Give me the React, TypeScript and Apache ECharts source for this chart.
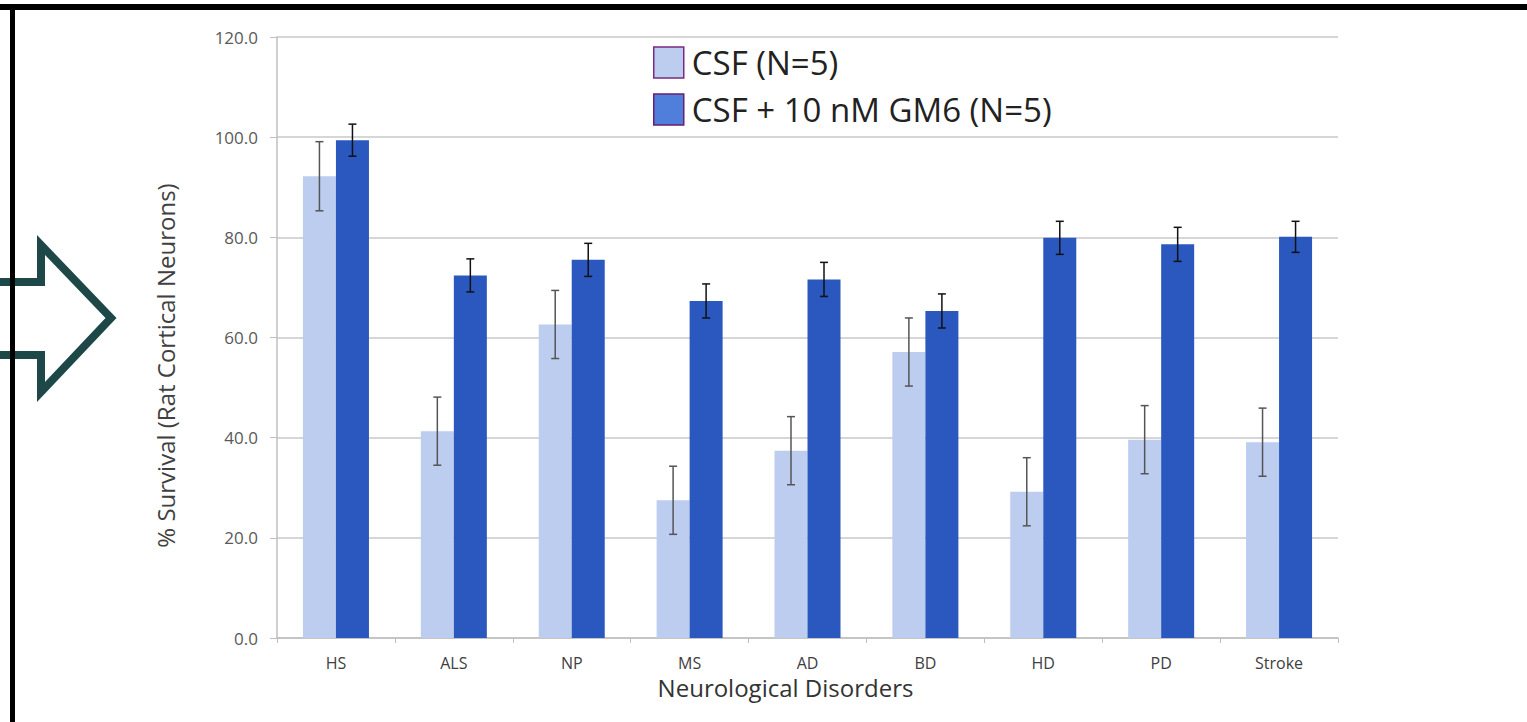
import React, { useEffect, useRef } from "react";
import * as echarts from "echarts";

const categories = ["HS", "ALS", "NP", "MS", "AD", "BD", "HD", "PD", "Stroke"];
const csfValues = [92.2, 41.3, 62.6, 27.5, 37.4, 57.1, 29.2, 39.6, 39.1];
const csfErrors = [6.9, 6.8, 6.8, 6.8, 6.8, 6.8, 6.8, 6.8, 6.8];
const gm6Values = [99.4, 72.4, 75.5, 67.3, 71.6, 65.3, 79.9, 78.6, 80.1];
const gm6Errors = [3.2, 3.3, 3.3, 3.4, 3.4, 3.4, 3.3, 3.4, 3.1];
const yTicks = { min: 0, max: 120, interval: 20 };
const seriesNames = ["CSF (N=5)", "CSF + 10 nM GM6 (N=5)"];

const LIGHT = "#BCCDF0";
const DARK = "#2A58BE";
const GAP = 0.44;
const FONT = "'Open Sans', sans-serif";

function errorSeries(values: number[], errors: number[], side: number, color: string) {
  return {
    type: "custom",
    silent: true,
    z: 5,
    data: values.map((v, i) => [i, v - errors[i], v + errors[i]]),
    renderItem: (params: any, api: any) => {
      const idx = api.value(0);
      const lo = api.coord([idx, api.value(1)]);
      const hi = api.coord([idx, api.value(2)]);
      const band = api.size([1, 0])[0];
      const bw = (band * (1 - GAP)) / 2;
      const x = lo[0] + side * bw / 2;
      const cap = 4;
      const style = { stroke: color, lineWidth: 1.5, fill: "none" };
      return {
        type: "group",
        children: [
          { type: "line", shape: { x1: x, y1: lo[1], x2: x, y2: hi[1] }, style },
          { type: "line", shape: { x1: x - cap, y1: lo[1], x2: x + cap, y2: lo[1] }, style },
          { type: "line", shape: { x1: x - cap, y1: hi[1], x2: x + cap, y2: hi[1] }, style },
        ],
      };
    },
  };
}

export default function App() {
  const ref = useRef<HTMLDivElement>(null);
  useEffect(() => {
    if (!ref.current) return;
    const chart = echarts.init(ref.current, undefined, { renderer: "svg" });
    chart.setOption({
      animation: false,
      backgroundColor: "#ffffff",
      grid: { left: 277, right: 189, top: 37, bottom: 84 },
      legend: {
        orient: "vertical",
        left: 648,
        top: 41,
        itemWidth: 30,
        itemHeight: 31,
        itemGap: 14,
        selectedMode: false,
        textStyle: { fontSize: 33, color: "#222", fontFamily: FONT, padding: [0, 0, 0, 3] },
        data: [
          { name: seriesNames[0], icon: "rect", itemStyle: { color: LIGHT, borderColor: "#7A2A80", borderWidth: 1.5 } },
          { name: seriesNames[1], icon: "rect", itemStyle: { color: "#4F7FDA", borderColor: "#6A1F70", borderWidth: 1.5 } },
        ],
      },
      xAxis: {
        type: "category",
        data: categories,
        name: "Neurological Disorders",
        nameLocation: "middle",
        nameGap: 33,
        nameTextStyle: { fontSize: 24, color: "#333", fontFamily: FONT, padding: [0, 44, 0, 0] },
        axisLine: { lineStyle: { color: "#BFBFBF", width: 1.5 } },
        axisTick: { show: true, length: 5, lineStyle: { color: "#BFBFBF" } },
        axisLabel: { fontSize: 16, color: "#404040", fontFamily: FONT, margin: 17 },
      },
      yAxis: {
        type: "value",
        min: yTicks.min,
        max: yTicks.max,
        interval: yTicks.interval,
        name: "% Survival (Rat Cortical Neurons)",
        nameLocation: "middle",
        nameGap: 100,
        nameRotate: 90,
        nameTextStyle: { fontSize: 24, color: "#404040", fontFamily: FONT, padding: [0, 56, 0, 0] },
        axisLine: { show: true, lineStyle: { color: "#BFBFBF", width: 1.5 } },
        axisTick: { show: true, length: 7, lineStyle: { color: "#BFBFBF" } },
        splitLine: { lineStyle: { color: "#C8C8C8", width: 1.5 } },
        axisLabel: {
          fontSize: 17,
          color: "#595959",
          fontFamily: FONT,
          margin: 19,
          formatter: (v: number) => v.toFixed(1),
        },
      },
      series: [
        {
          name: seriesNames[0],
          type: "bar",
          data: csfValues,
          barGap: "0%",
          barCategoryGap: GAP * 100 + "%",
          itemStyle: { color: LIGHT },
        },
        {
          name: seriesNames[1],
          type: "bar",
          data: gm6Values,
          barGap: "0%",
          barCategoryGap: GAP * 100 + "%",
          itemStyle: { color: DARK },
        },
        errorSeries(csfValues, csfErrors, -1, "#555555"),
        errorSeries(gm6Values, gm6Errors, 1, "#111111"),
      ],
      graphic: [
        { type: "rect", shape: { x: 0, y: 4, width: 1527, height: 6 }, style: { fill: "#000" }, z: 100 },
        { type: "rect", shape: { x: 10, y: 4, width: 5, height: 718 }, style: { fill: "#000" }, z: 100 },
        {
          type: "polyline",
          shape: { points: [[-6, 282], [41, 282], [41, 245], [111, 318], [41, 392], [41, 355], [-6, 355]] },
          style: { stroke: "#1E4848", lineWidth: 8, fill: "none", lineJoin: "miter" },
          z: 99,
        },
      ],
    });
    return () => chart.dispose();
  }, []);
  return (
    <div
      ref={ref}
      style={{ position: "fixed", left: 0, top: 0, width: 1527, height: 722, background: "#fff" }}
    />
  );
}
